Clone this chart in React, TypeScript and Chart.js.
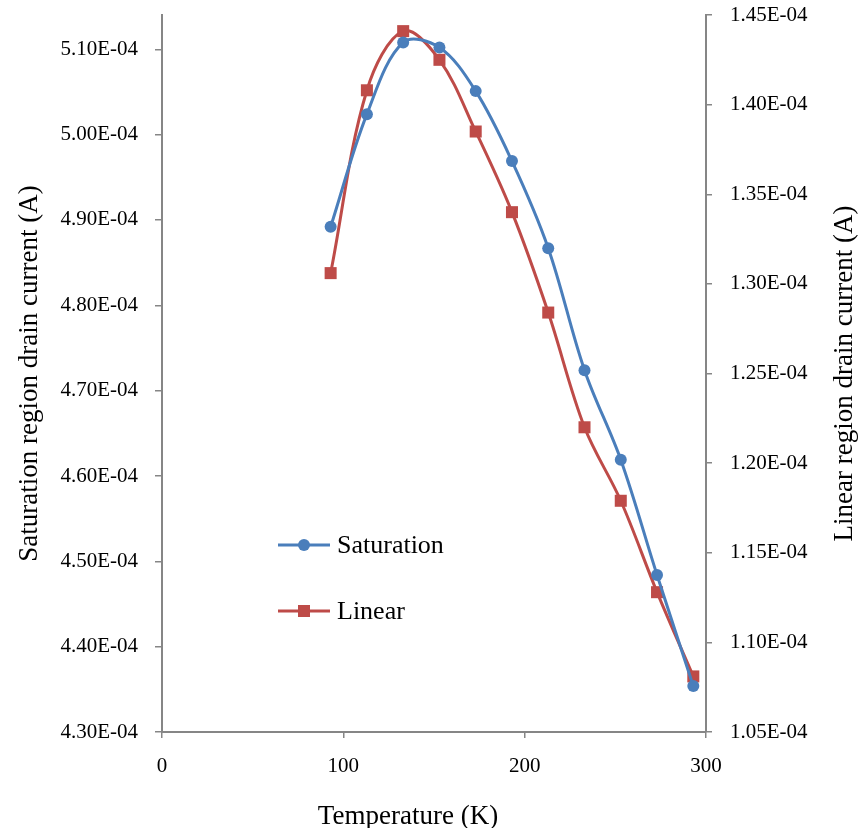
import React, { useEffect, useRef } from "react";
import { Chart, registerables } from "chart.js";

Chart.register(...registerables);

const temperatures = [93, 113, 133, 153, 173, 193, 213, 233, 253, 273, 293];
const saturation = [4.892e-4, 5.024e-4, 5.108e-4, 5.102e-4, 5.051e-4, 4.969e-4, 4.867e-4, 4.724e-4, 4.619e-4, 4.484e-4, 4.354e-4];
const linear = [1.306e-4, 1.408e-4, 1.441e-4, 1.425e-4, 1.385e-4, 1.34e-4, 1.284e-4, 1.22e-4, 1.179e-4, 1.128e-4, 1.081e-4];
const seriesNames = ["Saturation", "Linear"];
const xTitle = "Temperature (K)";
const leftTitle = "Saturation region drain current (A)";
const rightTitle = "Linear region drain current (A)";

const BLUE = "#4A7EBB";
const RED = "#BE4B48";
const AXIS = "#868686";
const FONT = "'Liberation Serif', 'Times New Roman', serif";

function fmtExp(v: number): string {
  const s = Number(v).toExponential(2);
  const [m, e] = s.split("e");
  const sign = e.startsWith("-") ? "-" : "+";
  const digits = e.replace(/[-+]/, "").padStart(2, "0");
  return m + "E" + sign + digits;
}

const overlayPlugin = {
  id: "overlay",
  afterDraw(chart: any) {
    const ctx = chart.ctx;
    ctx.save();
    ctx.fillStyle = "#000";
    ctx.font = `27px ${FONT}`;
    ctx.textBaseline = "alphabetic";
    ctx.textAlign = "center";
    ctx.fillText(xTitle, 408, 824);
    ctx.save();
    ctx.translate(37, 373.5);
    ctx.rotate(-Math.PI / 2);
    ctx.fillText(leftTitle, 0, 0);
    ctx.restore();
    ctx.save();
    ctx.translate(852, 373.5);
    ctx.rotate(-Math.PI / 2);
    ctx.fillText(rightTitle, 0, 0);
    ctx.restore();

    const rows = [545, 611];
    chart.data.datasets.forEach((ds: any, i: number) => {
      const y = rows[i];
      ctx.strokeStyle = ds.borderColor;
      ctx.lineWidth = ds.borderWidth;
      ctx.beginPath();
      ctx.moveTo(278, y);
      ctx.lineTo(330, y);
      ctx.stroke();
      ctx.fillStyle = ds.pointBackgroundColor;
      if (ds.pointStyle === "rect") {
        ctx.fillRect(304 - 6, y - 6, 12, 12);
      } else {
        ctx.beginPath();
        ctx.arc(304, y, 6, 0, Math.PI * 2);
        ctx.fill();
      }
      ctx.fillStyle = "#000";
      ctx.textAlign = "left";
      ctx.textBaseline = "middle";
      ctx.font = `26px ${FONT}`;
      ctx.fillText(ds.label, 337, y + 1);
    });
    ctx.restore();
  },
};

export default function App() {
  const ref = useRef<HTMLCanvasElement | null>(null);

  useEffect(() => {
    document.body.style.margin = "0";
    const canvas = ref.current;
    if (!canvas) return;
    const tickFont = { family: FONT, size: 21 };
    const fitY = (w: number) => (s: any) => {
      s.width = w;
      s.paddingTop = 0;
      s.paddingBottom = 0;
    };
    const chart = new Chart(canvas, {
      type: "line",
      data: {
        datasets: [
          {
            label: seriesNames[0],
            data: temperatures.map((t, i) => ({ x: t, y: saturation[i] })),
            yAxisID: "y",
            borderColor: BLUE,
            backgroundColor: BLUE,
            pointBackgroundColor: BLUE,
            pointBorderColor: BLUE,
            borderWidth: 3,
            pointStyle: "circle",
            pointRadius: 6,
            pointBorderWidth: 0,
            tension: 0.35,
            fill: false,
          },
          {
            label: seriesNames[1],
            data: temperatures.map((t, i) => ({ x: t, y: linear[i] })),
            yAxisID: "y1",
            borderColor: RED,
            backgroundColor: RED,
            pointBackgroundColor: RED,
            pointBorderColor: RED,
            borderWidth: 3,
            pointStyle: "rect",
            pointRadius: 8.5,
            pointBorderWidth: 0,
            tension: 0.35,
            fill: false,
          },
        ],
      },
      options: {
        responsive: false,
        animation: false,
        events: [],
        clip: false,
        layout: { padding: { top: 15, left: 0, right: 0, bottom: 0 } },
        plugins: {
          legend: { display: false },
          tooltip: { enabled: false },
          title: { display: false },
        },
        scales: {
          x: {
            type: "linear",
            position: "bottom",
            min: 0,
            max: 300,
            ticks: { stepSize: 100, color: "#000", font: tickFont, padding: 16, maxRotation: 0 },
            grid: { drawOnChartArea: false, drawTicks: true, tickLength: 6, color: AXIS, lineWidth: 1.5 },
            border: { display: true, color: AXIS, width: 2 },
            afterFit: (s: any) => {
              s.height = 96;
              s.paddingLeft = 0;
              s.paddingRight = 0;
            },
          },
          y: {
            type: "linear",
            position: "left",
            min: 4.3e-4,
            max: 5.1402e-4,
            ticks: {
              stepSize: 1e-5,
              includeBounds: false,
              color: "#000",
              font: tickFont,
              padding: 17,
              callback: (v: any) => fmtExp(Number(v)),
            },
            grid: { drawOnChartArea: false, drawTicks: true, tickLength: 7, color: AXIS, lineWidth: 1.5 },
            border: { display: true, color: AXIS, width: 2 },
            afterFit: fitY(162),
          },
          y1: {
            type: "linear",
            position: "right",
            min: 1.05e-4,
            max: 1.45e-4,
            ticks: {
              stepSize: 5e-6,
              color: "#000",
              font: tickFont,
              padding: 18,
              callback: (v: any) => fmtExp(Number(v)),
            },
            grid: { drawOnChartArea: false, drawTicks: true, tickLength: 6, color: AXIS, lineWidth: 1.5 },
            border: { display: true, color: AXIS, width: 2 },
            afterFit: fitY(153),
          },
        },
      },
      plugins: [overlayPlugin],
    } as any);
    return () => chart.destroy();
  }, []);

  return (
    <div style={{ position: "absolute", left: 0, top: 0, width: 859, height: 828 }}>
      <canvas ref={ref} width={859} height={828} style={{ width: 859, height: 828 }} />
    </div>
  );
}
